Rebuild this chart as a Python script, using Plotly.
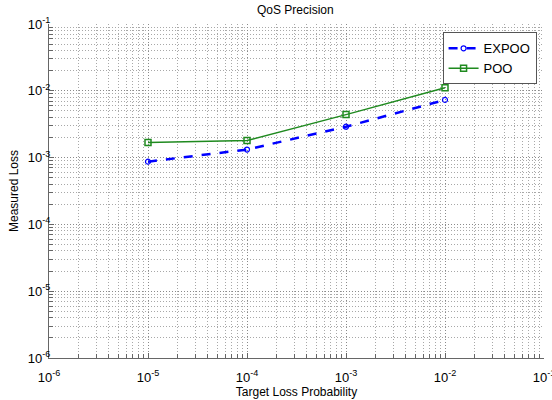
import plotly.graph_objects as go

target = [1e-5, 1e-4, 1e-3, 1e-2]
expoo = [8.7e-4, 1.32e-3, 2.9e-3, 7.3e-3]
poo = [1.68e-3, 1.8e-3, 4.4e-3, 1.11e-2]

decades = [-6, -5, -4, -3, -2, -1]
major_vals = [10.0 ** d for d in decades]
major_text = ["10<sup>%d</sup>" % d for d in decades]
minor_vals = [m * 10.0 ** d for d in decades[:-1] for m in range(2, 10)]

font = "Liberation Sans, Arial, sans-serif"

fig = go.Figure()
fig.add_trace(go.Scatter(
    x=target, y=expoo, name="EXPOO", mode="lines+markers",
    line=dict(color="#0000ff", width=2.5, dash="dash"),
    marker=dict(symbol="circle-open", size=5, color="#0000ff", line=dict(width=1.2)),
))
fig.add_trace(go.Scatter(
    x=target, y=poo, name="POO", mode="lines+markers",
    line=dict(color="#1f8a1f", width=1.5),
    marker=dict(symbol="square-open", size=6, color="#1f8a1f", line=dict(width=1.5)),
))

axis_common = dict(
    type="log",
    automargin=False,
    tickmode="array",
    tickvals=major_vals,
    ticktext=major_text,
    showgrid=True,
    gridcolor="#8a8a8a",
    griddash="1px,2px",
    gridwidth=1,
    ticks="inside",
    ticklen=5,
    tickcolor="#666666",
    showline=True,
    linecolor="#666666",
    linewidth=1,
    zeroline=False,
    ticklabeloverflow="allow",
    tickfont=dict(family=font, size=13, color="#000000"),
    minor=dict(
        tickmode="array",
        tickvals=minor_vals,
        ticks="inside",
        ticklen=4,
        tickcolor="#666666",
        showgrid=True,
        gridcolor="#a8a8a8",
        griddash="1px,2px",
        gridwidth=1,
    ),
)

fig.update_layout(
    width=552, height=400,
    margin=dict(l=49, r=8, t=24, b=42, autoexpand=False),
    paper_bgcolor="white",
    plot_bgcolor="white",
    title=dict(text="QoS Precision", x=0.535, xanchor="center", y=0.975, yanchor="middle",
               yref="container",
               font=dict(family=font, size=12, color="#000000")),
    xaxis=dict(axis_common, range=[-6, -1], ticklabelstandoff=7,
               title=dict(text="Target Loss Probability", standoff=4,
                          font=dict(family=font, size=12, color="#000000"))),
    yaxis=dict(axis_common, range=[-6, -1], ticklabelstandoff=-5,
               title=dict(text="Measured Loss", standoff=6,
                          font=dict(family=font, size=12, color="#000000"))),
    legend=dict(x=0.985, y=0.975, xanchor="right", yanchor="top",
                bgcolor="white", bordercolor="#555555", borderwidth=1,
                font=dict(family=font, size=13, color="#000000"),
                tracegroupgap=0, itemwidth=30),
    showlegend=True,
)

fig.write_html("out.html", config={"displayModeBar": False},
               post_script="document.body.style.margin='0';document.body.style.overflow='hidden';")
